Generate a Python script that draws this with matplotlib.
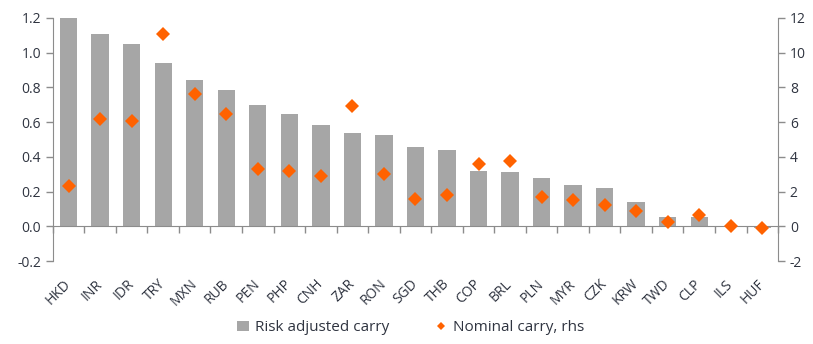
import matplotlib
matplotlib.use("Agg")
import matplotlib.pyplot as plt
import numpy as np

categories = ["HKD", "INR", "IDR", "TRY", "MXN", "RUB", "PEN", "PHP", "CNH", "ZAR", "RON",
              "SGD", "THB", "COP", "BRL", "PLN", "MYR", "CZK", "KRW", "TWD", "CLP", "ILS", "HUF"]
risk_adjusted = [1.20, 1.11, 1.05, 0.94, 0.84, 0.785, 0.70, 0.645, 0.585, 0.535, 0.525,
                 0.455, 0.44, 0.32, 0.31, 0.28, 0.24, 0.22, 0.14, 0.054, 0.054, 0.0, -0.01]
nominal = [2.33, 6.17, 6.06, 11.1, 7.63, 6.44, 3.29, 3.19, 2.9, 6.94, 3.0,
           1.55, 1.83, 3.58, 3.79, 1.71, 1.5, 1.23, 0.9, 0.25, 0.63, 0.02, -0.1]
left_ticks = [-0.2, 0.0, 0.2, 0.4, 0.6, 0.8, 1.0, 1.2]
right_ticks = [-2, 0, 2, 4, 6, 8, 10, 12]

plt.rcParams['font.family'] = ['Open Sans', 'DejaVu Sans']
text_color = '#2f3440'
spine_color = '#8c8c8c'
fs = 10

fig = plt.figure(figsize=(8.13, 3.44), dpi=100)
ax = fig.add_axes([0.065, 0.241, 0.892, 0.707])
x = np.arange(len(categories))

bars = ax.bar(x, risk_adjusted, width=0.55, color='#a6a6a6', zorder=2,
              label='Risk adjusted carry')
ax.set_xlim(-0.5, len(categories) - 0.5)
ax.set_ylim(-0.2, 1.2)
ax.set_yticks(left_ticks)
ax.set_yticklabels([f"{v:.1f}" for v in left_ticks])

ax2 = ax.twinx()
pts, = ax2.plot(x, nominal, linestyle='none', marker='D', markersize=7.5,
                color='#ff6200', markeredgewidth=0, zorder=3, label='Nominal carry, rhs')
ax2.set_ylim(-2, 12)
ax2.set_yticks(right_ticks)
ax2.set_yticklabels([str(v) for v in right_ticks])

for a in (ax, ax2):
    a.spines['top'].set_visible(False)
    a.tick_params(axis='y', colors=spine_color, labelcolor=text_color, labelsize=fs,
                  length=5, width=1)
ax.spines['right'].set_visible(False)
ax2.spines['left'].set_visible(False)
ax2.spines['bottom'].set_visible(False)
ax.spines['left'].set_color(spine_color)
ax2.spines['right'].set_color(spine_color)

# zero line with ticks between categories
ax.spines['bottom'].set_position(('data', 0))
ax.spines['bottom'].set_color(spine_color)
ax.set_xticks(np.arange(len(categories) + 1) - 0.5)
ax.set_xticklabels([])
ax.tick_params(axis='x', colors=spine_color, length=5, width=1, direction='out')

sec = ax.secondary_xaxis(0.0)
sec.set_xticks(x)
sec.set_xticklabels(categories, rotation=45, ha='right', va='center', rotation_mode='anchor',
                    color=text_color, fontsize=fs)
sec.tick_params(axis='x', length=0, pad=15)
sec.spines['bottom'].set_visible(False)

ax.set_zorder(ax2.get_zorder() - 1)
ax.patch.set_visible(False)

fig.legend(handles=[bars, pts], labels=['Risk adjusted carry', 'Nominal carry, rhs'],
           loc='lower center', bbox_to_anchor=(0.505, -0.015), ncol=2, frameon=False,
           fontsize=11, labelcolor=text_color, handlelength=0.8, handletextpad=0.4,
           columnspacing=3.0, markerscale=0.6)

fig.savefig('out.png', dpi=100)
